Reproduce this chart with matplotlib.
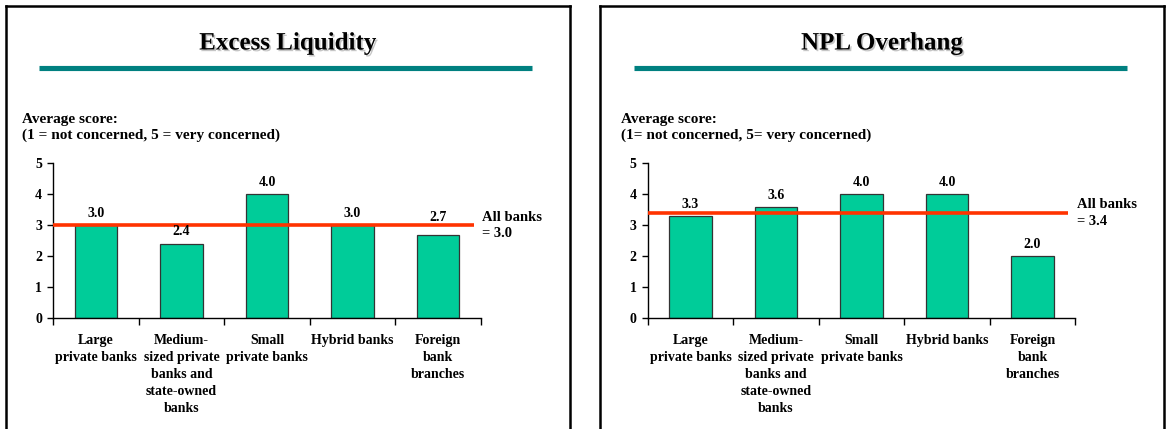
import matplotlib
matplotlib.use("Agg")
import matplotlib.pyplot as plt
from matplotlib.lines import Line2D
import matplotlib.patheffects as pe

# ---- data ----
categories = [
    "Large\nprivate banks",
    "Medium-\nsized private\nbanks and\nstate-owned\nbanks",
    "Small\nprivate banks",
    "Hybrid banks",
    "Foreign\nbank\nbranches",
]
liquidity_scores = [3.0, 2.4, 4.0, 3.0, 2.7]
liquidity_all_banks = 3.0
npl_scores = [3.3, 3.6, 4.0, 4.0, 2.0]
npl_all_banks = 3.4

titles = ["Excess Liquidity", "NPL Overhang"]
subtitles = [
    "Average score:\n(1 = not concerned, 5 = very concerned)",
    "Average score:\n(1= not concerned, 5= very concerned)",
]
yticks = [0, 1, 2, 3, 4, 5]

# ---- style ----
W, H, DPI = 1166, 429, 100
FONT = "Liberation Serif"
BAR_COLOR = "#00CC99"
AVG_COLOR = "#FF3300"
RULE_COLOR = "#008080"

plt.rcParams["font.family"] = [FONT, "DejaVu Serif"]
plt.rcParams["font.weight"] = "bold"

fig = plt.figure(figsize=(W / DPI, H / DPI), dpi=DPI)


def fx(px):
    return px / W


def fy(py):
    return 1 - py / H


def panel(x0, scores, avg, title, subtitle, label_offsets, sub_x):
    # frame
    kw = dict(color="black", lw=1.8, transform=fig.transFigure, solid_capstyle="projecting")
    fig.add_artist(Line2D([fx(x0 + 5.5), fx(x0 + 5.5)], [fy(6), fy(440)], **kw))
    fig.add_artist(Line2D([fx(x0 + 5.5), fx(x0 + 569.7)], [fy(6), fy(6)], **kw))
    fig.add_artist(Line2D([fx(x0 + 569.7), fx(x0 + 569.7)], [fy(6), fy(440)], **kw))

    # title with a soft shadow
    fig.text(fx(x0 + 287.5), fy(43), title, ha="center", va="center",
             fontsize=18, fontweight="bold",
             path_effects=[pe.SimplePatchShadow(offset=(1.2, -1.2), shadow_rgbFace="0.55", alpha=0.5),
                           pe.Normal()])
    fig.add_artist(Line2D([fx(x0 + 39), fx(x0 + 532)], [fy(67.5), fy(67.5)],
                          color=RULE_COLOR, lw=3.7, transform=fig.transFigure,
                          solid_capstyle="butt"))

    fig.text(fx(sub_x), fy(127.5), subtitle, ha="left", va="center",
             fontsize=11, fontweight="bold", linespacing=1.3)

    ax = fig.add_axes([fx(x0 + 53.3), fy(318.3), fx(427.5), 155 / H])
    x = list(range(len(categories)))
    ax.bar(x, scores, width=0.5, color=BAR_COLOR, edgecolor="#333333", linewidth=0.9, zorder=2)
    ax.set_xlim(-0.5, len(categories) - 0.5)
    ax.set_ylim(0, 5)

    for xi, v, off in zip(x, scores, label_offsets):
        ax.annotate(f"{v:.1f}", (xi, v), xytext=(0, off), textcoords="offset pixels",
                    ha="center", va="center", fontsize=10, fontweight="bold", zorder=4)

    ax.plot([-0.5, 4.42], [avg, avg], color=AVG_COLOR, lw=2.6, zorder=3,
            solid_capstyle="butt", clip_on=False)
    ax.text(1.003, avg / 5, f"All banks\n= {avg:.1f}", transform=ax.transAxes,
            ha="left", va="center", fontsize=10.5, fontweight="bold", linespacing=1.35)

    for s in ("top", "right"):
        ax.spines[s].set_visible(False)
    for s in ("left", "bottom"):
        ax.spines[s].set_linewidth(1.0)

    ax.set_yticks(yticks)
    ax.set_yticklabels([str(t) for t in yticks], fontsize=10, fontweight="bold")
    ax.tick_params(axis="y", direction="out", length=4, width=1.0, pad=4)

    ax.set_xticks([i - 0.5 for i in range(len(categories) + 1)])
    ax.set_xticklabels([])
    ax.tick_params(axis="x", which="major", direction="out", length=5, width=1.0)
    ax.set_xticks(x, minor=True)
    ax.set_xticklabels(categories, minor=True, fontsize=10, fontweight="bold",
                       linespacing=1.41, va="top")
    ax.tick_params(axis="x", which="minor", length=0, pad=11)
    ax.patch.set_alpha(0)
    return ax


panel(0, liquidity_scores, liquidity_all_banks, titles[0], subtitles[0],
      [12, 12, 12, 12, 17.5], 22)
panel(594.5, npl_scores, npl_all_banks, titles[1], subtitles[1],
      [12, 11, 12, 12, 12], 621)

fig.savefig("out.png", dpi=DPI)
